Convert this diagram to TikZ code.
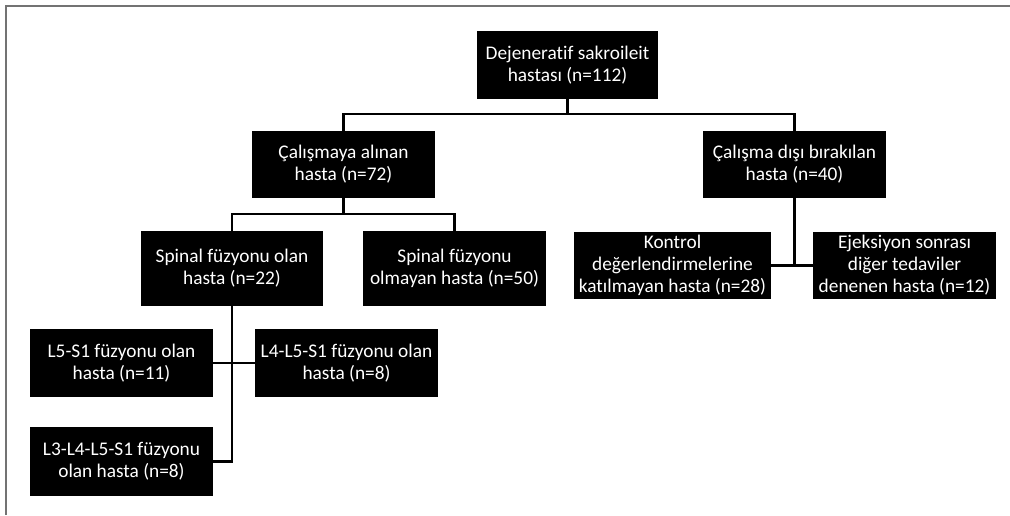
\documentclass[tikz,border=0pt]{standalone}
\usepackage{fontspec}
\setmainfont{Carlito}[Ligatures=NoCommon]
\usetikzlibrary{calc}

\begin{document}
\begin{tikzpicture}[x=0.02cm, y=-0.02cm,
	kutu/.style={fill=black, text=white, align=center, inner sep=0pt, font=\fontsize{11}{12.5}\selectfont},
	hat/.style={line width=0.045cm, color=black}]
		%%%%% START %%%%%
		
		\useasboundingbox (0, 0) rectangle (1010, 515);
		\draw[line width=0.05cm, color=black!55] (6, 515) -- (6, 6) -- (1010, 6);
		
		\node[kutu, minimum width=3.62cm, minimum height=1.36cm] (root) at (567.5, 65) {Dejeneratif sakroileit\\hastası (n=112)};
		
		\node[kutu, minimum width=3.66cm, minimum height=1.34cm] (inc) at (343.5, 164.5) {Çalışmaya alınan\\hasta (n=72)};
		\node[kutu, minimum width=3.66cm, minimum height=1.34cm] (exc) at (794.5, 164.5) {Çalışma dışı bırakılan\\hasta (n=40)};
		
		\node[kutu, minimum width=3.64cm, minimum height=1.5cm] (fus) at (232, 268.5) {Spinal füzyonu olan\\hasta (n=22)};
		\node[kutu, minimum width=3.66cm, minimum height=1.5cm] (nofus) at (454.5, 268.5) {Spinal füzyonu\\olmayan hasta (n=50)};
		\node[kutu, minimum width=3.94cm, minimum height=1.34cm] (ctrl) at (672.5, 265.5) {Kontrol\\değerlendirmelerine\\katılmayan hasta (n=28)};
		\node[kutu, minimum width=3.66cm, minimum height=1.34cm] (ejk) at (904.5, 265.5) {Ejeksiyon sonrası\\diğer tedaviler\\denenen hasta (n=12)};
		
		\node[kutu, minimum width=3.66cm, minimum height=1.36cm] (l5) at (121.5, 363) {L5-S1 füzyonu olan\\hasta (n=11)};
		\node[kutu, minimum width=3.66cm, minimum height=1.36cm] (l4) at (346.5, 363) {L4-L5-S1 füzyonu olan\\hasta (n=8)};
		\node[kutu, minimum width=3.66cm, minimum height=1.38cm] (l3) at (121.5, 461.5) {L3-L4-L5-S1 füzyonu\\olan hasta (n=8)};
		
		\coordinate (b1) at (567.5, 114);
		\coordinate (b2) at (343.5, 214);
		
		\draw[hat] (root.south) -- (b1);
		\draw[hat] (inc.north) |- (b1) -| (exc.north);
		\draw[hat] (inc.south) -- (b2);
		\draw[hat] (fus.north) |- (b2) -| (nofus.north);
		
		\draw[hat] (exc.south) -- (exc.south |- ctrl.east);
		\draw[hat] (ctrl.east) -- (ejk.west);
		
		\draw[hat] (fus.south) |- (l3.east);
		\draw[hat] (l5.east) -- (l4.west);
		
		%%%%% END %%%%%
	\end{tikzpicture}
\end{document}
